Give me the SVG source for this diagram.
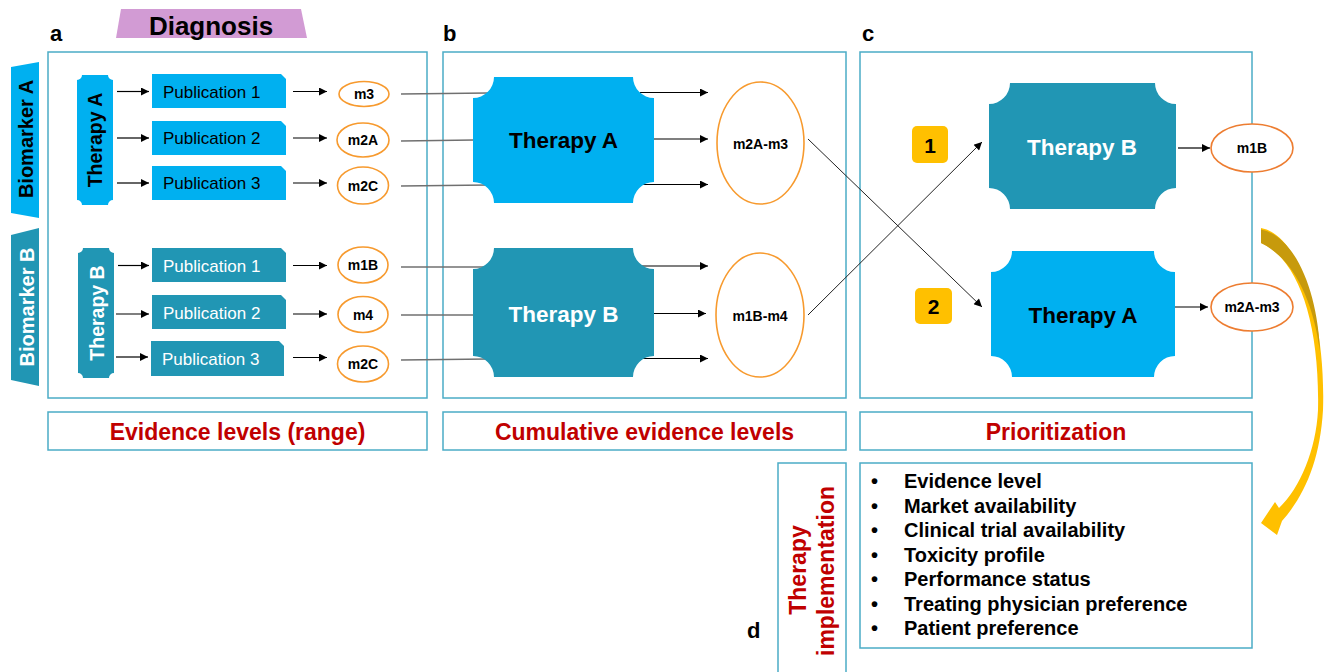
<svg xmlns="http://www.w3.org/2000/svg" width="1328" height="672" viewBox="0 0 1328 672">
<defs>
<style>
.panel{fill:#fff;stroke:#4BACC6;stroke-width:1.5}
.lb{fill:#00B0F0}
.tl{fill:#2196B4}
.t{font-family:"Liberation Sans",Arial,sans-serif}
.b{font-weight:bold}
.red{fill:#C00000;font-weight:bold;font-size:23px}
.pub{font-size:17px}
.oe{fill:#fff;stroke:#F79A2E;stroke-width:1.6}
.oe2{fill:#fff;stroke:#ED7D31;stroke-width:1.6}
.arr{stroke:#000;stroke-width:1.2;fill:none;marker-end:url(#ah)}
.gl{stroke:#707070;stroke-width:1.4;fill:none}
.thin{stroke:#222;stroke-width:1;fill:none;marker-end:url(#ah)}
.mt{font-size:14px;font-weight:bold;text-anchor:middle}
.big{font-size:22.5px;font-weight:bold;text-anchor:middle}
</style>
<marker id="ah" viewBox="0 0 10 10" refX="10" refY="5" markerWidth="10" markerHeight="8" markerUnits="userSpaceOnUse" orient="auto"><path d="M0,0 L10,5 L0,10 z" fill="#000"/></marker>
</defs>
<rect width="1328" height="672" fill="#fff"/>

<g id="panels">
<rect class="panel" x="48" y="52" width="379" height="346"/>
<rect class="panel" x="48" y="412" width="379" height="38"/>
<rect class="panel" x="443" y="52" width="403" height="346"/>
<rect class="panel" x="443" y="412" width="403" height="38"/>
<rect class="panel" x="860" y="52" width="392" height="346"/>
<rect class="panel" x="860" y="412" width="392" height="38"/>
<rect class="panel" x="778" y="463" width="68" height="215"/>
<rect class="panel" x="860" y="463" width="392" height="185"/>
<text class="t red" x="237.5" y="439.5" text-anchor="middle">Evidence levels (range)</text>
<text class="t red" x="644.5" y="439.5" text-anchor="middle">Cumulative evidence levels</text>
<text class="t red" x="1056" y="439.5" text-anchor="middle">Prioritization</text>
<text class="t b" x="50" y="41" font-size="22">a</text>
<text class="t b" x="443" y="41" font-size="22">b</text>
<text class="t b" x="862" y="41" font-size="22">c</text>
<text class="t b" x="747" y="638" font-size="22">d</text>
</g>

<g id="diagnosis">
<polygon points="121,9 301,9 307,38 116,38" fill="#D29BD4"/>
<text class="t b" x="211" y="35" font-size="26" text-anchor="middle">Diagnosis</text>
</g>

<g id="biomarkerA">
<polygon class="lb" points="11,67 39,62 39,218 11,213"/>
<text class="t b" transform="translate(33,139) rotate(-90)" font-size="20" text-anchor="middle">Biomarker A</text>
</g>
<g id="biomarkerB">
<polygon class="tl" points="11,235 39,228 39,386 11,380"/>
<text class="t b" transform="translate(34,307) rotate(-90)" font-size="20" text-anchor="middle" fill="#fff">Biomarker B</text>
</g>

<g id="connectors">
<line class="arr" x1="117" y1="91.5" x2="149" y2="91.5"/>
<line class="arr" x1="117" y1="138" x2="149" y2="138"/>
<line class="arr" x1="117" y1="183" x2="149" y2="183"/>
<line class="arr" x1="118" y1="265.5" x2="149" y2="265.5"/>
<line class="arr" x1="116" y1="314" x2="149" y2="314"/>
<line class="arr" x1="116" y1="357" x2="148" y2="357"/>
<line class="arr" x1="293" y1="91.5" x2="327" y2="91.5"/>
<line class="arr" x1="293" y1="138" x2="327" y2="138"/>
<line class="arr" x1="293" y1="183" x2="327" y2="183"/>
<line class="arr" x1="293" y1="265.5" x2="327" y2="265.5"/>
<line class="arr" x1="293" y1="314" x2="327" y2="314"/>
<line class="arr" x1="293" y1="357.5" x2="327" y2="357.5"/>
<line class="gl" x1="401" y1="94" x2="488" y2="93"/>
<line class="gl" x1="401" y1="141" x2="474" y2="140"/>
<line class="gl" x1="401" y1="186" x2="488" y2="185"/>
<line class="gl" x1="401" y1="267" x2="488" y2="267"/>
<line class="gl" x1="401" y1="315" x2="474" y2="315"/>
<line class="gl" x1="401" y1="360" x2="488" y2="359"/>
<line class="arr" x1="640" y1="92.5" x2="708" y2="92.5"/>
<line class="arr" x1="654" y1="139" x2="708" y2="139"/>
<line class="arr" x1="640" y1="184.5" x2="708" y2="184.5"/>
<line class="arr" x1="640" y1="266" x2="708" y2="266"/>
<line class="arr" x1="654" y1="313.5" x2="706" y2="313.5"/>
<line class="arr" x1="640" y1="358.5" x2="708" y2="358.5"/>
<line class="thin" x1="808" y1="139" x2="982" y2="307"/>
<line class="thin" x1="808" y1="315" x2="982" y2="142"/>
<line class="arr" x1="1178" y1="148" x2="1210" y2="148"/>
<line class="arr" x1="1175" y1="307" x2="1208" y2="307"/>
</g>

<g id="therapyA-vert">
<path class="lb" d="M82,75 H108 A5,5 0 0 0 113,80 V200 A5,5 0 0 0 108,205 H82 A5,5 0 0 0 77,200 V80 A5,5 0 0 0 82,75 Z"/>
<text class="t b" transform="translate(102,140) rotate(-90)" font-size="19.5" text-anchor="middle">Therapy A</text>
</g>
<g id="therapyB-vert">
<path class="tl" d="M83,248 H109 A5,5 0 0 0 114,253 V373 A5,5 0 0 0 109,378 H83 A5,5 0 0 0 78,373 V253 A5,5 0 0 0 83,248 Z"/>
<text class="t b" transform="translate(104,313) rotate(-90)" font-size="19.5" text-anchor="middle" fill="#fff">Therapy B</text>
</g>

<g id="pubA1"><path class="lb" d="M152,74 H281 L286,79 V108 H152 Z"/><text class="t pub" x="163" y="97.5">Publication 1</text></g>
<g id="pubA2"><path class="lb" d="M152,121 H281 L286,126 V155 H152 Z"/><text class="t pub" x="163" y="144">Publication 2</text></g>
<g id="pubA3"><path class="lb" d="M152,166 H281 L286,171 V200 H152 Z"/><text class="t pub" x="163" y="189">Publication 3</text></g>
<g id="pubB1"><path class="tl" d="M152,248 H281 L286,253 V282 H152 Z"/><text class="t pub" x="163" y="271.5" fill="#fff">Publication 1</text></g>
<g id="pubB2"><path class="tl" d="M152,295 H281 L286,300 V329 H152 Z"/><text class="t pub" x="163" y="319" fill="#fff">Publication 2</text></g>
<g id="pubB3"><path class="tl" d="M151,341 H279 L284,346 V376 H151 Z"/><text class="t pub" x="162" y="365" fill="#fff">Publication 3</text></g>

<g id="mA1"><ellipse class="oe" cx="364" cy="94" rx="25" ry="12.5"/><text class="t mt" x="364" y="99">m3</text></g>
<g id="mA2"><ellipse class="oe" cx="363" cy="140" rx="26" ry="17"/><text class="t mt" x="363" y="145">m2A</text></g>
<g id="mA3"><ellipse class="oe" cx="363" cy="185.5" rx="25.5" ry="18.5"/><text class="t mt" x="363" y="190.5">m2C</text></g>
<g id="mB1"><ellipse class="oe" cx="363" cy="265" rx="25" ry="18"/><text class="t mt" x="363" y="270">m1B</text></g>
<g id="mB2"><ellipse class="oe" cx="363" cy="314.5" rx="25" ry="18"/><text class="t mt" x="363" y="319.5">m4</text></g>
<g id="mB3"><ellipse class="oe" cx="363" cy="364" rx="25.5" ry="18"/><text class="t mt" x="363" y="369">m2C</text></g>

<g id="therapyA-b">
<path class="lb" d="M494,77 H633 A21,21 0 0 0 654,98 V182 A21,21 0 0 0 633,203 H494 A21,21 0 0 0 473,182 V98 A21,21 0 0 0 494,77 Z"/>
<text class="t big" x="563.5" y="147.5">Therapy A</text>
</g>
<g id="therapyB-b">
<path class="tl" d="M494,248 H633 A21,21 0 0 0 654,269 V356 A21,21 0 0 0 633,377 H494 A21,21 0 0 0 473,356 V269 A21,21 0 0 0 494,248 Z"/>
<text class="t big" x="563.5" y="321.5" fill="#fff">Therapy B</text>
</g>
<g id="cum-A"><ellipse class="oe" cx="760.5" cy="143" rx="43.5" ry="61"/><text class="t b" x="760.5" y="149" font-size="14" text-anchor="middle">m2A-m3</text></g>
<g id="cum-B"><ellipse class="oe" cx="760" cy="315" rx="44" ry="62"/><text class="t b" x="760" y="321" font-size="14" text-anchor="middle">m1B-m4</text></g>

<g id="therapyB-c">
<path class="tl" d="M1010,83 H1155 A21,21 0 0 0 1176,104 V188 A21,21 0 0 0 1155,209 H1010 A21,21 0 0 0 989,188 V104 A21,21 0 0 0 1010,83 Z"/>
<text class="t big" x="1082" y="155" fill="#fff">Therapy B</text>
</g>
<g id="therapyA-c">
<path class="lb" d="M1012,251 H1154 A21,21 0 0 0 1175,272 V356 A21,21 0 0 0 1154,377 H1012 A21,21 0 0 0 991,356 V272 A21,21 0 0 0 1012,251 Z"/>
<text class="t big" x="1083" y="323">Therapy A</text>
</g>
<g id="rank1"><rect x="912" y="126" width="36" height="37" rx="5" fill="#FFC000"/><text class="t b" x="930" y="153" font-size="21" text-anchor="middle">1</text></g>
<g id="rank2"><rect x="915" y="288" width="37" height="36" rx="5" fill="#FFC000"/><text class="t b" x="933.5" y="314" font-size="21" text-anchor="middle">2</text></g>
<g id="res-B"><ellipse class="oe2" cx="1252" cy="148" rx="41" ry="24"/><text class="t mt" x="1252" y="153">m1B</text></g>
<g id="res-A"><ellipse class="oe2" cx="1252" cy="307" rx="41" ry="24"/><text class="t mt" x="1252" y="312">m2A-m3</text></g>

<g id="curved-arrow">
<path d="M1261,228 C1300,235 1326,320 1323,410 C1320,460 1305,495 1282,521 L1277,535 L1261,523 L1275,502 L1279,508 C1300,488 1316,450 1318,410 C1320,320 1297,258 1261,243 Z" fill="#FFC000"/>
<path d="M1261,229.5 C1297,237 1318,295 1320,352 C1313,298 1292,258 1261,243 Z" fill="#C79A0C"/>
</g>

<g id="implementation">
<text class="t red" transform="translate(806,570) rotate(-90)" text-anchor="middle">Therapy</text>
<text class="t red" transform="translate(834,571) rotate(-90)" text-anchor="middle">implementation</text>
</g>

<g id="criteria" class="t b" font-size="20">
<text x="871" y="488">•</text><text x="904" y="488">Evidence level</text>
<text x="871" y="512.5">•</text><text x="904" y="512.5">Market availability</text>
<text x="871" y="537">•</text><text x="904" y="537">Clinical trial availability</text>
<text x="871" y="561.5">•</text><text x="904" y="561.5">Toxicity profile</text>
<text x="871" y="586">•</text><text x="904" y="586">Performance status</text>
<text x="871" y="611">•</text><text x="904" y="611">Treating physician preference</text>
<text x="871" y="635">•</text><text x="904" y="635">Patient preference</text>
</g>
</svg>
